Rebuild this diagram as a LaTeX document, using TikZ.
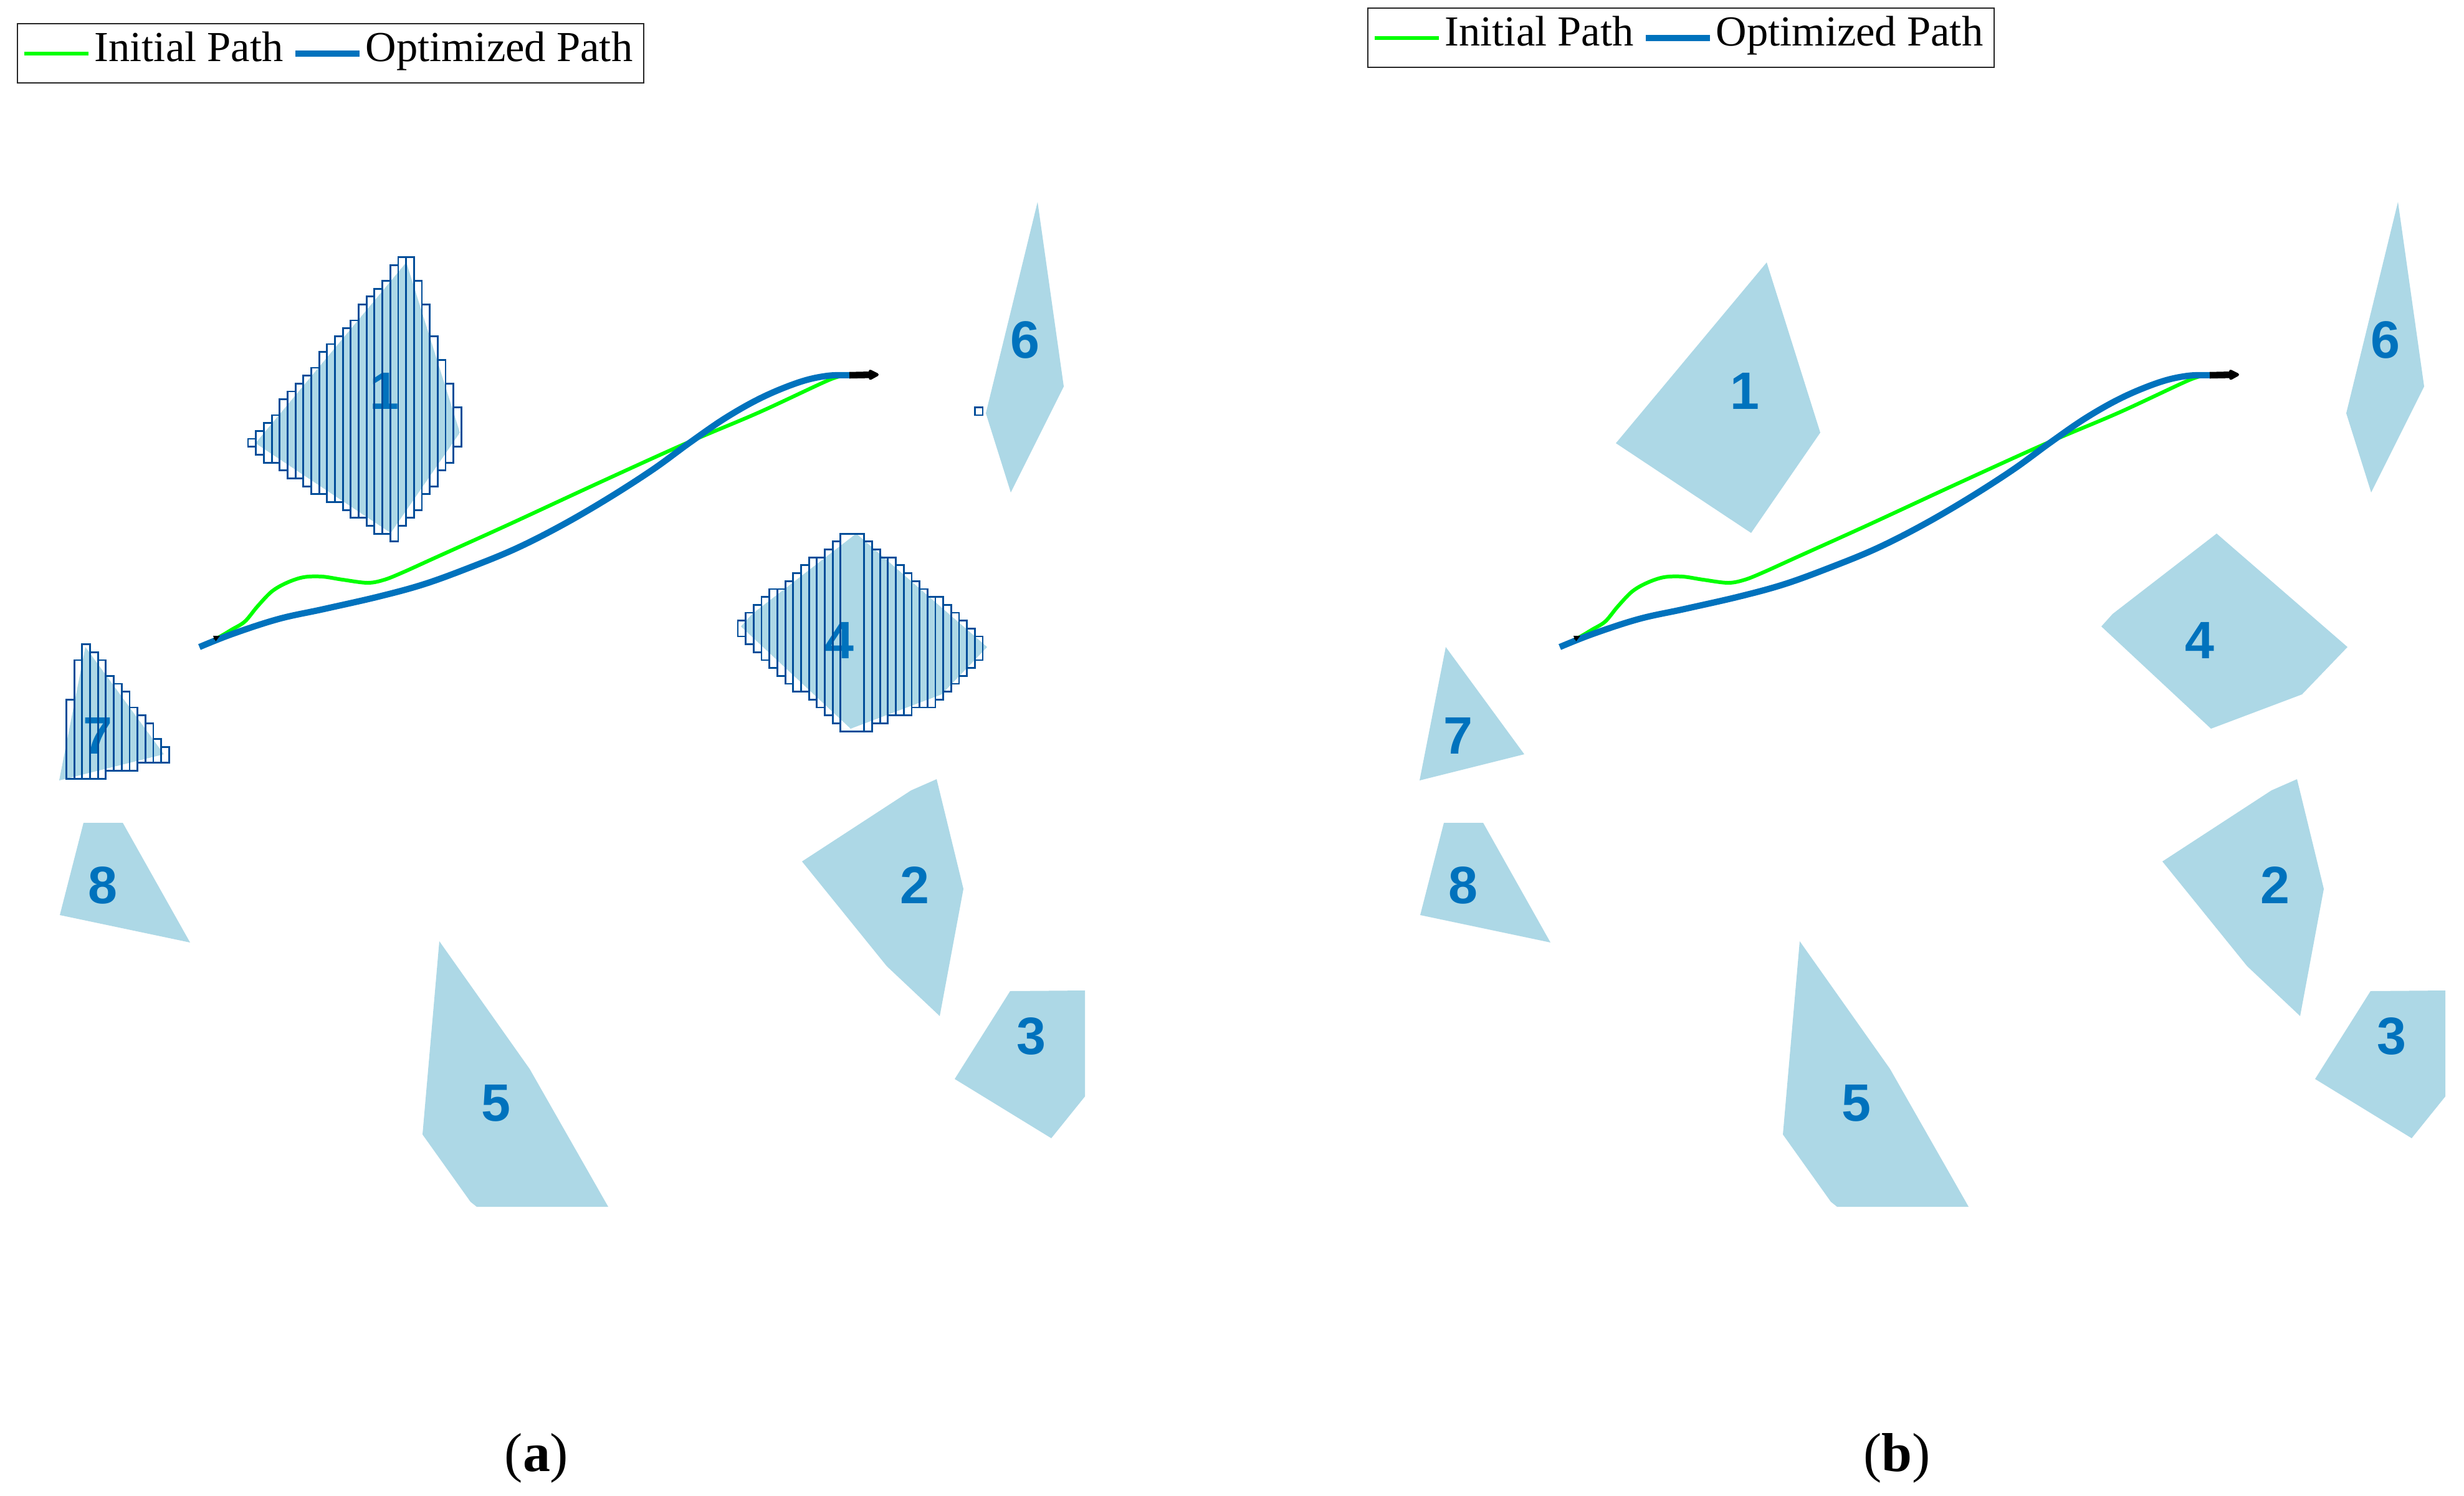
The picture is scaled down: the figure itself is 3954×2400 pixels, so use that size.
\documentclass[tikz,border=0pt]{standalone}
\usepackage{fontspec}
\setmainfont{Liberation Serif}
\newfontfamily\obsfont{Liberation Sans}
\usetikzlibrary{arrows.meta}
\definecolor{obsfill}{RGB}{173,216,230}
\definecolor{obsblue}{RGB}{0,114,189}
\definecolor{celledge}{RGB}{0,77,153}
\definecolor{initgreen}{RGB}{0,255,0}
\definecolor{boxgray}{RGB}{38,38,38}
\begin{document}
\begin{tikzpicture}[x=0.01cm,y=-0.01cm,
	obstacle/.style={fill=obsfill},
	obslabel/.style={text=obsblue,inner sep=0pt,font=\obsfont\bfseries\fontsize{24}{24}\selectfont},
	cellbox/.style={draw=celledge,line width=0.8pt},
	initpath/.style={initgreen,line width=1.7pt},
	optpath/.style={obsblue,line width=2.85pt},
	legendtext/.style={anchor=base west,inner sep=0pt,font=\fontsize{19.5}{19.5}\selectfont},
	caption/.style={anchor=base,inner sep=0pt,font=\fontsize{25}{25}\selectfont}]
	\path[use as bounding box,fill=white] (0,0) rectangle (3954,2400);
	\foreach \dx/\p/\lx/\ly in {0/a/0/0,2183/b/2167/-25}{
	\begin{scope}[shift={(\dx,0)}]
	\fill[obstacle] (652,421) -- (738,694) -- (627,855) -- (410,711) -- cycle;
	\fill[obstacle] (1503,1250) -- (1546,1426) -- (1508,1630) -- (1423,1550) -- (1287,1382) -- (1462,1268) -- cycle;
	\fill[obstacle] (1621,1590) -- (1741,1589) -- (1741,1759) -- (1687,1826) -- (1532,1731) -- cycle;
	\fill[obstacle] (1374,856) -- (1584,1038) -- (1511,1114) -- (1365,1169) -- (1189,1005) -- (1207,985) -- cycle;
	\fill[obstacle] (705,1510) -- (850,1715) -- (976,1936) -- (765,1936) -- (755,1928) -- (678,1820) -- cycle;
	\fill[obstacle] (1665,324) -- (1707,620) -- (1622,790) -- (1582,663) -- cycle;
	\fill[obstacle] (137,1038) -- (263,1210) -- (95,1252) -- cycle;
	\fill[obstacle] (134,1320) -- (197,1320) -- (305,1512) -- (96,1468) -- cycle;
	\foreach \n/\x/\y in {1/617/627,2/1468/1420,3/1655/1662,4/1347/1027,5/796/1770,6/1645/545,7/157/1180,8/165/1420}
		\node[obslabel] (lab\p\n) at (\x,\y) {\n};
	\draw[initpath] plot[smooth,tension=0.55] coordinates {(322,1037) (350,1023) (372,1010) (393,997) (413,973) (436,949) (460,935) (487,926) (517,925) (550,930) (590,935) (617,930) (647,918) (700,894) (813,843) (960,775) (1099,712) (1217,662) (1327,611) (1350,604)};
	\draw[optpath] plot[smooth,tension=0.6] coordinates {(320,1038) (373,1017) (447,993) (520,977) (608,957) (681,937) (755,910) (828,880) (901,843) (975,800) (1048,753) (1107,710) (1165,670) (1224,637) (1283,613) (1327,603) (1363,602)};
	\coordinate (start\p) at (343,1025);
	\coordinate (head\p) at (353,1020);
	\draw[black,line width=0.6pt,-{Triangle[length=0.1cm,width=0.09cm]}] (start\p) -- (head\p);
	\coordinate (goal\p) at (1363,602);
	\coordinate (tip\p) at (1410,601);
	\draw[black,line width=3pt,-{Triangle[length=0.19cm,width=0.18cm,round]}] (goal\p) -- (tip\p);
	\node[caption] (cap\p) at (861,2360) {(\textbf{\p})};
	\end{scope}
	\begin{scope}[shift={(\lx,\ly)}]
	\draw[boxgray,line width=0.45pt,fill=white] (28,38) rectangle (1033,133);
	\draw[initpath] (39,86) -- (142,86);
	\node[legendtext] (init\p) at (151,99) {Initial Path};
	\draw[optpath] (474,86) -- (577,86);
	\node[legendtext] (opt\p) at (586,99) {Optimized Path};
	\end{scope}}
	\begin{scope}[shift={(106.5,412.5)},x=0.1267cm,y=-0.1267cm]
	\foreach \c/\t/\b in {23/23/24,24/22/25,25/21/26,26/20/26,27/18/27,28/17/28,29/16/28,30/15/29,31/14/30,
		32/12/30,33/11/31,34/10/31,35/9/32,36/8/33,37/6/33,38/5/34,39/4/35,40/3/35,41/1/36,42/0/34,43/0/33,
		44/3/32,45/6/30,46/10/29,47/13/27,48/16/26,49/19/24,
		85/46/48,86/45/49,87/44/50,88/43/51,89/42/52,90/42/53,91/41/54,92/40/55,93/39/55,94/38/56,95/38/57,
		96/37/58,97/36/59,101/36/60,102/37/59,103/38/59,104/38/58,105/39/58,106/40/58,107/41/57,108/42/57,
		109/43/57,110/43/56,111/44/55,112/45/54,113/46/53,114/47/52,115/48/51,
		0/56/66,1/51/66,2/49/66,3/50/66,4/51/66,5/53/65,6/54/65,7/55/65,8/57/65,9/58/64,10/59/64,11/61/64,12/62/64,
		115/19/20}
		\draw[cellbox] (\c,\t) rectangle (\c+1,\b);
	\draw[cellbox] (98,35) rectangle (101,60);
	\end{scope}
\end{tikzpicture}
\end{document}
